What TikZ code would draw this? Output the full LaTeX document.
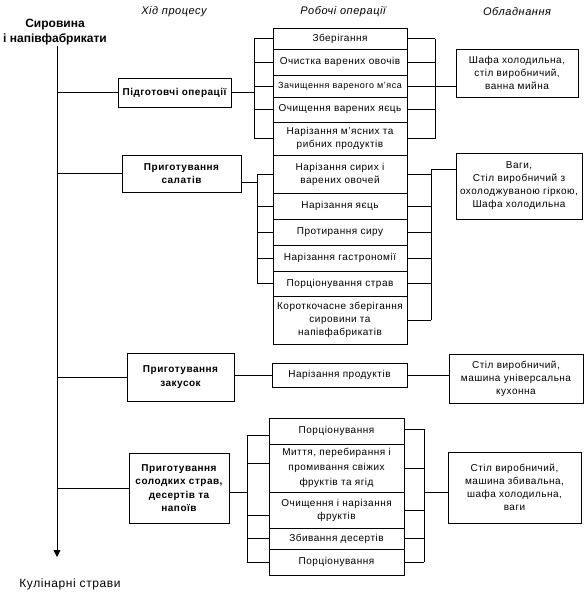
\documentclass[tikz,border=0pt]{standalone}
\usepackage{fontspec}
\setmainfont{Liberation Sans}[LetterSpace=5]
\newfontfamily\plainfont{Liberation Sans}
\usetikzlibrary{arrows.meta}
\begin{document}
\begin{tikzpicture}[x=1pt,y=-1pt, line width=0.9pt,
  every node/.style={align=center, inner sep=1pt, font=\fontsize{10}{13}\selectfont},
  bx/.style={draw, line width=0.9pt},
  pb/.style={bx, font=\fontsize{10}{13.5}\selectfont\bfseries},
  hd/.style={font=\fontsize{11}{13}\selectfont\itshape},
  ttl/.style={font=\plainfont\fontsize{12}{15}\selectfont\bfseries}]
\useasboundingbox (0,0) rectangle (586,595);

% headers
\node[hd] (h1) at (174,12) {Хід процесу};
\node[hd] (h2) at (343,12) {Робочі операції};
\node[hd] (h3) at (517,12) {Обладнання};
\node[ttl] (src) at (55,32) {Сировина\\і напівфабрикати};
\node[font=\fontsize{12}{14}\selectfont] (dst) at (70,584) {Кулінарні страви};

% process boxes
\node[pb, minimum width=113, minimum height=29] (p1) at (174.5,92.5) {Підготовчі операції};
\node[pb, minimum width=119, minimum height=37] (p2) at (181.5,173.5) {Приготування\\салатів};
\node[pb, minimum width=107, minimum height=48] (p3) at (180.5,377) {Приготування\\закусок};
\node[pb, minimum width=100, minimum height=70] (p4) at (179,488) {Приготування\\солодких страв,\\десертів та\\напоїв};

% operations group 1
\node[bx, minimum width=134, minimum height=21] (a1) at (340,38.5) {Зберігання};
\node[bx, minimum width=134, minimum height=26] (a2) at (340,62) {Очистка варених овочів};
\node[bx, minimum width=134, minimum height=22, font=\fontsize{9}{10}\selectfont\addfontfeature{LetterSpace=6}] (a3) at (340,86) {Зачищення вареного м’яса};
\node[bx, minimum width=134, minimum height=25] (a4) at (340,109.5) {Очищення варених яєць};
\node[bx, minimum width=134, minimum height=33] (a5) at (340,138.5) {Нарізання м’ясних та\\рибних продуктів};

% operations group 2
\node[bx, minimum width=134, minimum height=38] (b1) at (340,174) {Нарізання сирих і\\варених овочей};
\node[bx, minimum width=134, minimum height=26] (b2) at (340,206) {Нарізання яєць};
\node[bx, minimum width=134, minimum height=26] (b3) at (340,232) {Протирання сиру};
\node[bx, minimum width=134, minimum height=26] (b4) at (340,258) {Нарізання гастрономії};
\node[bx, minimum width=134, minimum height=25] (b5) at (340,283.5) {Порціонування страв};
\node[bx, minimum width=134, minimum height=48] (b6) at (340,320) {Короткочасне зберігання\\сировини та\\напівфабрикатів};

% operations group 3
\node[bx, minimum width=135, minimum height=24] (c1) at (339.5,375) {Нарізання продуктів};

% operations group 4
\node[bx, minimum width=135, minimum height=26] (d1) at (336.5,431) {Порціонування};
\node[bx, minimum width=135, minimum height=48, font=\fontsize{10}{15}\selectfont] (d2) at (336.5,468) {Миття, перебирання і\\промивання свіжих\\фруктів та ягід};
\node[bx, minimum width=135, minimum height=36] (d3) at (336.5,510) {Очищення і нарізання\\фруктів};
\node[bx, minimum width=135, minimum height=21] (d4) at (336.5,538.5) {Збивання десертів};
\node[bx, minimum width=135, minimum height=26] (d5) at (336.5,562) {Порціонування};

% equipment
\node[bx, minimum width=122, minimum height=48] (e1) at (517,73) {Шафа холодильна,\\стіл виробничий,\\ванна мийна};
\node[bx, minimum width=126, minimum height=66] (e2) at (519,186) {Ваги,\\Стіл виробничий з\\охолоджуваною гіркою,\\Шафа холодильна};
\node[bx, minimum width=134, minimum height=49] (e3) at (516,378.5) {Стіл виробничий,\\машина універсальна\\кухонна};
\node[bx, minimum width=133, minimum height=71] (e4) at (514.5,487.5) {Стіл виробничий,\\машина збивальна,\\шафа холодильна,\\ваги};

% main flow line
\coordinate (m0) at (57,46);
\coordinate (m1) at (57,557);
\draw[-{Triangle[length=7pt,width=7pt]}] (m0) -- (m1);
\draw (m0 |- p1.west) -- (p1.west);
\draw (m0 |- p2.west) -- (p2.west);
\draw (m0 |- p3.west) -- (p3.west);
\draw (m0 |- p4.west) -- (p4.west);

% group 1 brackets
\coordinate (L1) at (254,0);
\coordinate (R1) at (435,0);
\draw (L1 |- a1.west) -- (L1 |- a5.west);
\draw (R1 |- a1.east) -- (R1 |- a5.east);
\foreach \n in {a1,a2,a3,a4,a5} {
  \draw (\n.west) -- (\n.west -| L1);
  \draw (\n.east) -- (\n.east -| R1);
}
\draw (p1.east) -- (p1.east -| L1);
\draw (a3.east) -- (a3.east -| e1.west);

% group 2 brackets
\coordinate (L2) at (257,0);
\coordinate (R2) at (431,0);
\coordinate (j2) at ([yshift=17pt]e2.west);
\draw (L2 |- b1.west) -- (L2 |- b5.west);
\foreach \n in {b1,b2,b3,b4,b5} {
  \draw (\n.west) -- (\n.west -| L2);
}
\foreach \n in {b1,b2,b3,b4,b5,b6} {
  \draw (\n.east) -- (\n.east -| R2);
}
\draw (j2) -- (j2 -| R2) -- (R2 |- b6.east);
\draw ([yshift=-8.5pt]p2.east) -- ([yshift=-8.5pt]p2.east -| L2);

% group 3
\draw (p3.east |- c1.west) -- (c1.west);
\draw (c1.east) -- (c1.east -| e3.west);

% group 4 brackets
\coordinate (L4) at (247,0);
\coordinate (R4) at (424,0);
\coordinate (t1) at ([yshift=-4pt]d1.west);
\coordinate (t2) at ([yshift=5pt]d2.west);
\coordinate (t3) at ([yshift=-5pt]d3.west);
\draw (L4 |- t1) -- (L4 |- d5.west);
\foreach \n in {t1,t2,t3,d4.west,d5.west} {
  \draw (\n) -- (\n -| L4);
}
\coordinate (u1) at ([yshift=2pt]d1.east);
\draw (R4 |- u1) -- (R4 |- d5.east);
\foreach \n in {u1,d2.east,d3.east,d4.east,d5.east} {
  \draw (\n) -- (\n -| R4);
}
\draw (p4.east |- d2.south) -- (L4 |- d2.south);
\draw (R4 |- d2.south) -- (d2.south -| e4.west);
\end{tikzpicture}
\end{document}
